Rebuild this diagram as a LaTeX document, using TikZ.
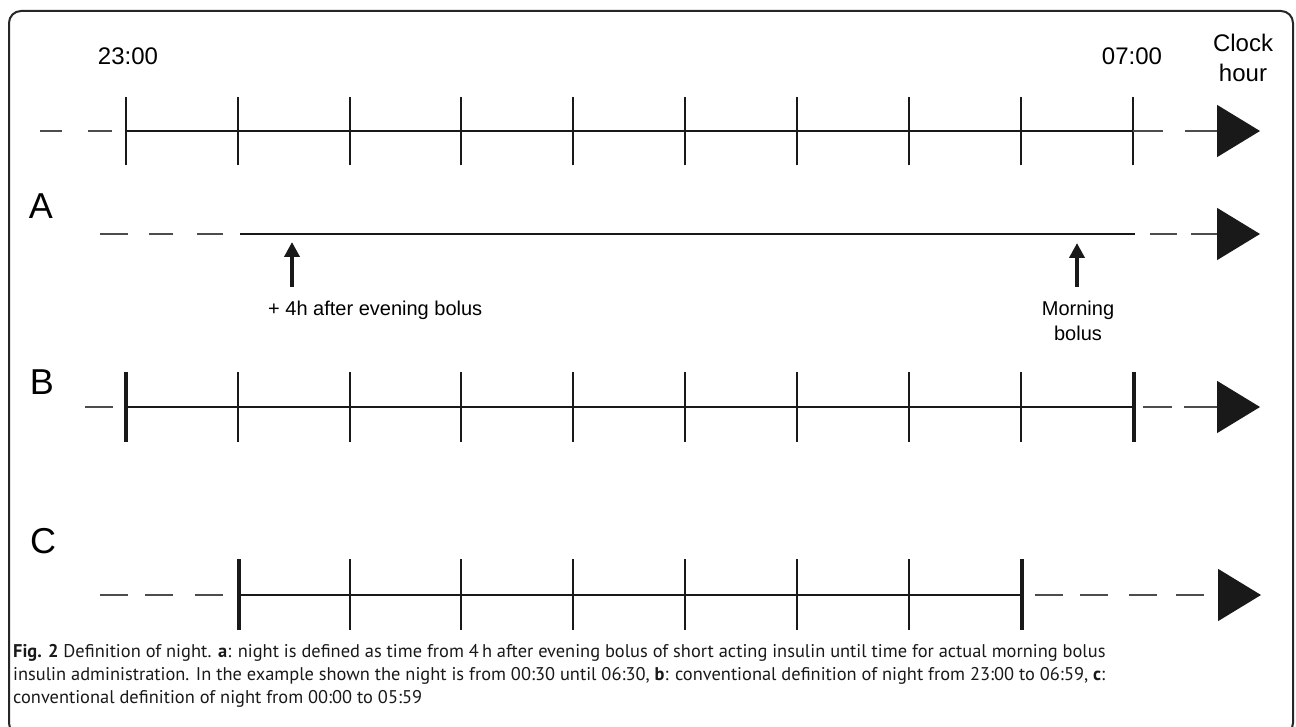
\documentclass[tikz,border=0pt]{standalone}
\usepackage{fontspec}
\setmainfont{Liberation Sans}
\newfontfamily\capfont{PT Sans}
\usetikzlibrary{arrows.meta}
\tikzset{
  axisline/.style={line width=2pt, black!90},
  tickline/.style={line width=2pt, black!90},
  thicktick/.style={line width=4pt, black!90},
  dashseg/.style={line width=1.6pt, black!70},
  bigtip/.style={-{Triangle[length=43pt,width=52pt,color=black!90]}},
  bigarrow/.style={line width=1.6pt, black!70, bigtip},
  uparrow/.style={line width=4pt, black!90, -{Triangle[length=15pt,width=15pt]}},
  lbl/.style={font=\fontsize{24}{28}\selectfont, inner sep=0pt},
  rowlbl/.style={font=\fontsize{36}{40}\selectfont, inner sep=0pt},
  smalllbl/.style={font=\fontsize{20}{25}\selectfont, inner sep=0pt, align=center},
  captxt/.style={font=\capfont\fontsize{18.4}{21}\selectfont, inner sep=0pt, anchor=base west, text=black!90}
}
\begin{document}
\begin{tikzpicture}[x=1pt,y=-1pt]
\useasboundingbox (0,0) rectangle (1296,727);
\begin{scope}
\clip (0,0) rectangle (1296,727);
\draw[line width=2pt, black!85, rounded corners=12pt] (9,11) rectangle (1293,735);
\end{scope}

% ---------- top clock axis ----------
\node[lbl] (t23) at (128,56) {23:00};
\node[lbl] (t07) at (1132,56) {07:00};
\node[lbl, align=center] (clock) at (1243,58) {Clock\\[2pt]hour};
\foreach \x [count=\i] in {126,238,350,461,573,685,797,909,1021,1133}{
  \coordinate (T\i t) at (\x,97);
  \coordinate (T\i b) at (\x,165);
  \draw[tickline] (T\i t) -- (T\i b);
}
\coordinate (T0) at (126,131); \coordinate (T1) at (1133,131);
\draw[axisline] (T0) -- (T1);
\foreach \a/\b in {40/62,88/112,1133/1163}{
  \coordinate (ta) at (\a,131); \coordinate (tb) at (\b,131);
  \draw[dashseg] (ta) -- (tb);
}
\coordinate (Tas) at (1185,131); \coordinate (Tae) at (1260,131);
\draw[bigarrow] (Tas) -- (Tae);

% ---------- row A ----------
\node[rowlbl] (A) at (41,206) {A};
\coordinate (A0) at (240,234); \coordinate (A1) at (1135,234);
\draw[axisline] (A0) -- (A1);
\foreach \a/\b in {100/128,149/173,197/223,1150/1177}{
  \coordinate (aa) at (\a,234); \coordinate (ab) at (\b,234);
  \draw[dashseg] (aa) -- (ab);
}
\coordinate (Aas) at (1191,234); \coordinate (Aae) at (1260,234);
\draw[bigarrow] (Aas) -- (Aae);
\coordinate (ev0) at (292,287); \coordinate (ev1) at (292,242);
\draw[uparrow] (ev0) -- (ev1);
\node[smalllbl, anchor=west] (evlbl) at (268,310) {+ 4h after evening bolus};
\coordinate (mo0) at (1077,287); \coordinate (mo1) at (1077,243);
\draw[uparrow] (mo0) -- (mo1);
\node[smalllbl] (molbl) at (1078,321) {Morning\\bolus};

% ---------- row B ----------
\node[rowlbl] (B) at (42,382) {B};
\coordinate (B0) at (126,407); \coordinate (B1) at (1134,407);
\draw[axisline] (B0) -- (B1);
\foreach \x [count=\i] in {238,350,461,573,685,797,909,1021}{
  \coordinate (Bt\i) at (\x,372); \coordinate (Bb\i) at (\x,442);
  \draw[tickline] (Bt\i) -- (Bb\i);
}
\coordinate (Bs1) at (126,372); \coordinate (Be1) at (126,442);
\draw[thicktick] (Bs1) -- (Be1);
\coordinate (Bs2) at (1134,372); \coordinate (Be2) at (1134,442);
\draw[thicktick] (Bs2) -- (Be2);
\foreach \a/\b in {85/113,1143/1172}{
  \coordinate (ba) at (\a,407); \coordinate (bb) at (\b,407);
  \draw[dashseg] (ba) -- (bb);
}
\coordinate (Bas) at (1184,407); \coordinate (Bae) at (1260,407);
\draw[bigarrow] (Bas) -- (Bae);

% ---------- row C ----------
\node[rowlbl] (C) at (43,541) {C};
\coordinate (C0) at (239,595); \coordinate (C1) at (1022,595);
\draw[axisline] (C0) -- (C1);
\foreach \x [count=\i] in {350,461,573,685,797,909}{
  \coordinate (Ct\i) at (\x,559); \coordinate (Cb\i) at (\x,630);
  \draw[tickline] (Ct\i) -- (Cb\i);
}
\coordinate (Cs1) at (239,559); \coordinate (Ce1) at (239,630);
\draw[thicktick] (Cs1) -- (Ce1);
\coordinate (Cs2) at (1022,559); \coordinate (Ce2) at (1022,630);
\draw[thicktick] (Cs2) -- (Ce2);
\foreach \a/\b in {100/128,145/173,195/223,1035/1063,1080/1108,1129/1157}{
  \coordinate (ca) at (\a,595); \coordinate (cb) at (\b,595);
  \draw[dashseg] (ca) -- (cb);
}
\coordinate (Cas) at (1176,595); \coordinate (Cae) at (1261,595);
\draw[line width=1.6pt, black!70, dash pattern=on 28pt off 60pt, bigtip] (Cas) -- (Cae);

% ---------- caption ----------
\node[captxt] (cap1) at (13,657) {\textbf{Fig. 2} Definition of night. \textbf{a}: night is defined as time from 4\,h after evening bolus of short acting insulin until time for actual morning bolus};
\node[captxt] (cap2) at (13,680) {insulin administration. In the example shown the night is from 00:30 until 06:30, \textbf{b}: conventional definition of night from 23:00 to 06:59, \textbf{c}:};
\node[captxt] (cap3) at (13,703) {conventional definition of night from 00:00 to 05:59};
\end{tikzpicture}
\end{document}
